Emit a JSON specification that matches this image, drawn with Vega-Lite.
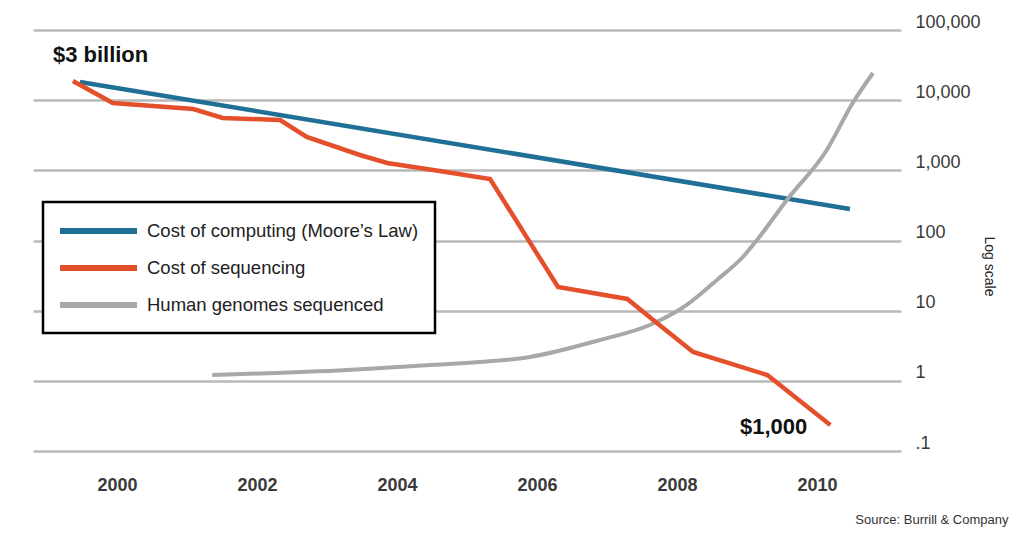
{
  "$schema": "https://vega.github.io/schema/vega-lite/v6.json",
  "width": 868,
  "height": 421,
  "autosize": {"type": "none"},
  "padding": {"left": 33, "top": 30, "right": 111, "bottom": 88},
  "background": "white",
  "config": {
    "view": {"stroke": null},
    "font": "Liberation Sans"
  },
  "datasets": {
    "series": [
      {"series": "Cost of computing (Moore’s Law)", "year": 1999.47, "value": 18150},
      {"series": "Cost of computing (Moore’s Law)", "year": 2010.47, "value": 281},
      {"series": "Cost of sequencing", "year": 1999.37, "value": 18750, "note": "$3 billion"},
      {"series": "Cost of sequencing", "year": 1999.94, "value": 9120},
      {"series": "Cost of sequencing", "year": 2001.09, "value": 7480},
      {"series": "Cost of sequencing", "year": 2001.51, "value": 5570},
      {"series": "Cost of sequencing", "year": 2002.33, "value": 5210},
      {"series": "Cost of sequencing", "year": 2002.71, "value": 2990},
      {"series": "Cost of sequencing", "year": 2003.47, "value": 1655},
      {"series": "Cost of sequencing", "year": 2003.86, "value": 1273},
      {"series": "Cost of sequencing", "year": 2004.61, "value": 979},
      {"series": "Cost of sequencing", "year": 2005.33, "value": 753},
      {"series": "Cost of sequencing", "year": 2006.30, "value": 21.7},
      {"series": "Cost of sequencing", "year": 2007.29, "value": 14.7},
      {"series": "Cost of sequencing", "year": 2007.66, "value": 7.37},
      {"series": "Cost of sequencing", "year": 2008.23, "value": 2.58},
      {"series": "Cost of sequencing", "year": 2009.29, "value": 1.21},
      {"series": "Cost of sequencing", "year": 2010.19, "value": 0.235, "note": "$1,000"},
      {"series": "Human genomes sequenced", "year": 2001.36, "value": 1.21},
      {"series": "Human genomes sequenced", "year": 2003.29, "value": 1.43},
      {"series": "Human genomes sequenced", "year": 2004.47, "value": 1.68},
      {"series": "Human genomes sequenced", "year": 2005.90, "value": 2.19},
      {"series": "Human genomes sequenced", "year": 2006.90, "value": 3.82},
      {"series": "Human genomes sequenced", "year": 2007.61, "value": 6.25},
      {"series": "Human genomes sequenced", "year": 2008.14, "value": 12.1},
      {"series": "Human genomes sequenced", "year": 2008.57, "value": 27.4},
      {"series": "Human genomes sequenced", "year": 2008.94, "value": 58.2},
      {"series": "Human genomes sequenced", "year": 2009.14, "value": 101},
      {"series": "Human genomes sequenced", "year": 2009.57, "value": 378},
      {"series": "Human genomes sequenced", "year": 2010.14, "value": 1950},
      {"series": "Human genomes sequenced", "year": 2010.51, "value": 9120},
      {"series": "Human genomes sequenced", "year": 2010.80, "value": 24400}
    ]
  },
  "data": {"name": "series"},
  "encoding": {
    "x": {
      "field": "year", "type": "quantitative",
      "scale": {"domain": [1998.8, 2011.2], "nice": false, "zero": false},
      "axis": {
        "orient": "bottom",
        "values": [2000, 2002, 2004, 2006, 2008, 2010],
        "format": "d",
        "domain": false, "ticks": false, "grid": false,
        "labelFontSize": 18, "labelFontWeight": "bold", "labelColor": "#3a3a3a",
        "labelPadding": 25,
        "title": "Source: Burrill & Company",
        "titleX": 975, "titleY": 68, "titleAlign": "right", "titleBaseline": "middle",
        "titleFontSize": 13, "titleFontWeight": "normal", "titleColor": "#333333"
      }
    },
    "y": {
      "field": "value", "type": "quantitative",
      "scale": {"type": "log", "domain": [0.1, 100000], "nice": false},
      "axis": {
        "orient": "right",
        "values": [0.1, 1, 10, 100, 1000, 10000, 100000],
        "labelExpr": "datum.value < 1 ? '.1' : format(datum.value, ',')",
        "domain": false, "ticks": false,
        "grid": true, "gridColor": "#b9b9b9", "gridWidth": 2.5,
        "labelFontSize": 18, "labelColor": "#3a3a3a", "labelPadding": 14,
        "labelOffset": -8,
        "title": "Log scale",
        "titleX": 87, "titleY": 236, "titleAngle": 90,
        "titleAlign": "center", "titleBaseline": "middle",
        "titleFontSize": 14, "titleFontWeight": "normal", "titleColor": "#222222"
      }
    },
    "color": {
      "field": "series", "type": "nominal",
      "scale": {
        "domain": ["Cost of computing (Moore’s Law)", "Cost of sequencing", "Human genomes sequenced"],
        "range": ["#1f6f96", "#e5502c", "#a8a8a8"]
      },
      "legend": {
        "orient": "none", "legendX": 10, "legendY": 172,
        "title": null,
        "symbolType": "M-1.2,0H6.5", "symbolSize": 400, "symbolStrokeWidth": 6,
        "labelFontSize": 18.5, "labelColor": "#222222", "labelOffset": 62, "labelLimit": 400,
        "padding": 16, "rowPadding": 12,
        "strokeColor": "black", "fillColor": "white",
        "encode": {"legend": {"update": {"strokeWidth": {"value": 2.5}}}}
      }
    }
  },
  "layer": [
    {
      "transform": [{"filter": "datum.series === 'Cost of computing (Moore’s Law)'"}],
      "mark": {"type": "line", "strokeWidth": 4.5}
    },
    {
      "transform": [{"filter": "datum.series === 'Human genomes sequenced'"}],
      "mark": {"type": "line", "strokeWidth": 4, "interpolate": "monotone"}
    },
    {
      "transform": [{"filter": "datum.series === 'Cost of sequencing'"}],
      "mark": {"type": "line", "strokeWidth": 4.5}
    },
    {
      "transform": [{"filter": "datum.note === '$3 billion'"}],
      "mark": {"type": "text", "align": "left", "baseline": "middle", "dx": -20, "dy": -26, "fontSize": 22, "fontWeight": "bold", "color": "#111111"},
      "encoding": {"text": {"field": "note"}, "color": {"value": "#111111"}}
    },
    {
      "transform": [{"filter": "datum.note === '$1,000'"}],
      "mark": {"type": "text", "align": "right", "baseline": "middle", "dx": -23, "dy": 2, "fontSize": 22, "fontWeight": "bold", "color": "#111111"},
      "encoding": {"text": {"field": "note"}, "color": {"value": "#111111"}}
    }
  ]
}
